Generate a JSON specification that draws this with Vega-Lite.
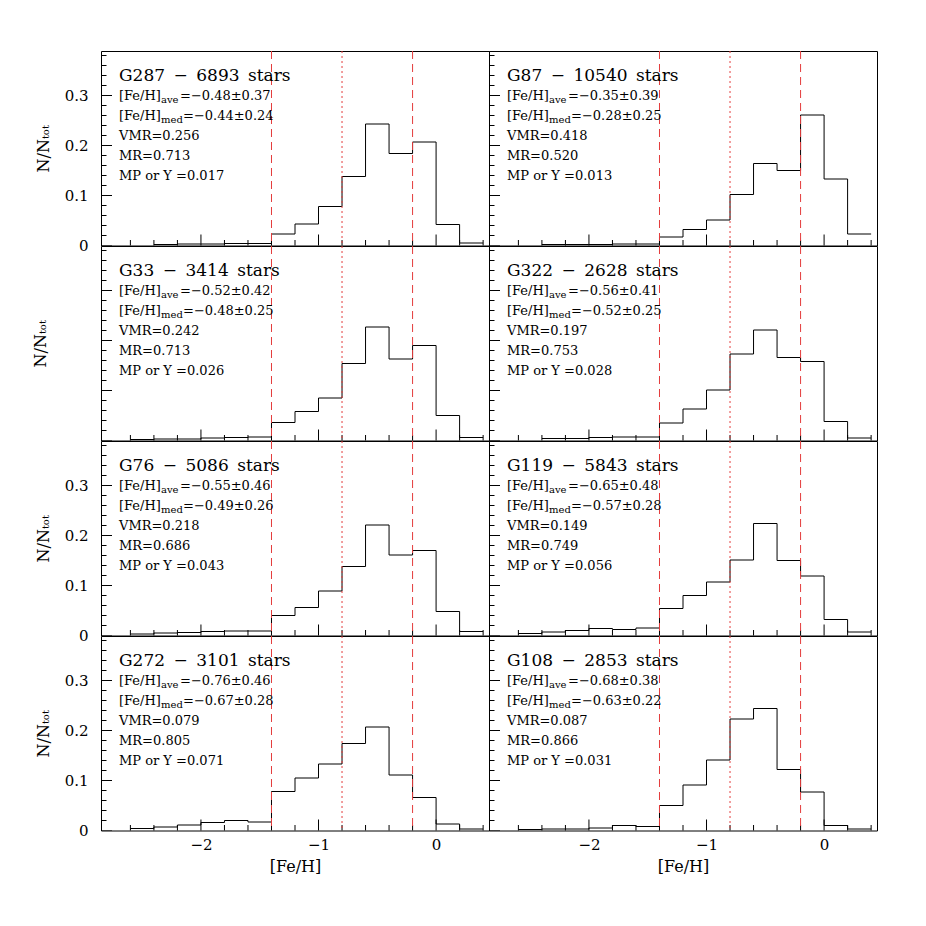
{
"$schema": "https://vega.github.io/schema/vega-lite/v6.json",
"padding": {"left": 32, "top": 48, "right": 5, "bottom": 5},
"background": "white",
"config": {
  "view": {"stroke": "black", "strokeWidth": 1},
  "axis": {"domain": false, "grid": false, "labelOverlap": false, "tickColor": "black", "tickWidth": 1, "labelFont": "DejaVu Serif", "labelFontSize": 15, "labelColor": "black", "titleFont": "DejaVu Serif", "titleFontSize": 16, "titleFontWeight": "normal", "titleColor": "black"},
  "text": {"font": "DejaVu Serif", "fontSize": 13, "align": "left", "baseline": "middle", "color": "black"}
},
"datasets": {
  "vl": [{"x": -1.4, "s": "dash"}, {"x": -0.8, "s": "dot"}, {"x": -0.2, "s": "dash"}],
  "yt": [{"v":0,"m":"major"},{"v":0.02,"m":"minor"},{"v":0.04,"m":"minor"},{"v":0.06,"m":"minor"},{"v":0.08,"m":"minor"},{"v":0.1,"m":"major"},{"v":0.12,"m":"minor"},{"v":0.14,"m":"minor"},{"v":0.16,"m":"minor"},{"v":0.18,"m":"minor"},{"v":0.2,"m":"major"},{"v":0.22,"m":"minor"},{"v":0.24,"m":"minor"},{"v":0.26,"m":"minor"},{"v":0.28,"m":"minor"},{"v":0.3,"m":"major"},{"v":0.32,"m":"minor"},{"v":0.34,"m":"minor"},{"v":0.36,"m":"minor"},{"v":0.38,"m":"minor"}],
  "xt": [{"v":-2.6,"m":"minor"},{"v":-2.4,"m":"minor"},{"v":-2.2,"m":"minor"},{"v":-2,"m":"major"},{"v":-1.8,"m":"minor"},{"v":-1.6,"m":"minor"},{"v":-1.4,"m":"minor"},{"v":-1.2,"m":"minor"},{"v":-1,"m":"major"},{"v":-0.8,"m":"minor"},{"v":-0.6,"m":"minor"},{"v":-0.4,"m":"minor"},{"v":-0.2,"m":"minor"},{"v":0,"m":"major"},{"v":0.2,"m":"minor"},{"v":0.4,"m":"minor"}],
  "h": [
    {"g":"G287","x":-2.4,"n":0.002},{"g":"G287","x":-2.2,"n":0.003},{"g":"G287","x":-2.0,"n":0.003},{"g":"G287","x":-1.8,"n":0.004},{"g":"G287","x":-1.6,"n":0.004},{"g":"G287","x":-1.4,"n":0.023},{"g":"G287","x":-1.2,"n":0.043},{"g":"G287","x":-1.0,"n":0.078},{"g":"G287","x":-0.8,"n":0.138},{"g":"G287","x":-0.6,"n":0.243},{"g":"G287","x":-0.4,"n":0.184},{"g":"G287","x":-0.2,"n":0.207},{"g":"G287","x":0.0,"n":0.042},{"g":"G287","x":0.2,"n":0.005},{"g":"G287","x":0.4,"n":0.005},
    {"g":"G87","x":-2.4,"n":0.002},{"g":"G87","x":-2.2,"n":0.002},{"g":"G87","x":-2.0,"n":0.002},{"g":"G87","x":-1.8,"n":0.003},{"g":"G87","x":-1.6,"n":0.003},{"g":"G87","x":-1.4,"n":0.017},{"g":"G87","x":-1.2,"n":0.032},{"g":"G87","x":-1.0,"n":0.051},{"g":"G87","x":-0.8,"n":0.102},{"g":"G87","x":-0.6,"n":0.164},{"g":"G87","x":-0.4,"n":0.150},{"g":"G87","x":-0.2,"n":0.261},{"g":"G87","x":0.0,"n":0.133},{"g":"G87","x":0.2,"n":0.023},{"g":"G87","x":0.4,"n":0.023},
    {"g":"G33","x":-2.6,"n":0.002},{"g":"G33","x":-2.4,"n":0.003},{"g":"G33","x":-2.2,"n":0.003},{"g":"G33","x":-2.0,"n":0.005},{"g":"G33","x":-1.8,"n":0.006},{"g":"G33","x":-1.6,"n":0.007},{"g":"G33","x":-1.4,"n":0.036},{"g":"G33","x":-1.2,"n":0.058},{"g":"G33","x":-1.0,"n":0.085},{"g":"G33","x":-0.8,"n":0.154},{"g":"G33","x":-0.6,"n":0.227},{"g":"G33","x":-0.4,"n":0.163},{"g":"G33","x":-0.2,"n":0.190},{"g":"G33","x":0.0,"n":0.050},{"g":"G33","x":0.2,"n":0.006},{"g":"G33","x":0.4,"n":0.006},
    {"g":"G322","x":-2.4,"n":0.004},{"g":"G322","x":-2.2,"n":0.004},{"g":"G322","x":-2.0,"n":0.006},{"g":"G322","x":-1.8,"n":0.007},{"g":"G322","x":-1.6,"n":0.007},{"g":"G322","x":-1.4,"n":0.035},{"g":"G322","x":-1.2,"n":0.063},{"g":"G322","x":-1.0,"n":0.101},{"g":"G322","x":-0.8,"n":0.173},{"g":"G322","x":-0.6,"n":0.221},{"g":"G322","x":-0.4,"n":0.166},{"g":"G322","x":-0.2,"n":0.158},{"g":"G322","x":0.0,"n":0.038},{"g":"G322","x":0.2,"n":0.005},{"g":"G322","x":0.4,"n":0.005},
    {"g":"G76","x":-2.6,"n":0.003},{"g":"G76","x":-2.4,"n":0.005},{"g":"G76","x":-2.2,"n":0.006},{"g":"G76","x":-2.0,"n":0.008},{"g":"G76","x":-1.8,"n":0.009},{"g":"G76","x":-1.6,"n":0.009},{"g":"G76","x":-1.4,"n":0.040},{"g":"G76","x":-1.2,"n":0.056},{"g":"G76","x":-1.0,"n":0.089},{"g":"G76","x":-0.8,"n":0.138},{"g":"G76","x":-0.6,"n":0.221},{"g":"G76","x":-0.4,"n":0.161},{"g":"G76","x":-0.2,"n":0.170},{"g":"G76","x":0.0,"n":0.048},{"g":"G76","x":0.2,"n":0.008},{"g":"G76","x":0.4,"n":0.008},
    {"g":"G119","x":-2.6,"n":0.004},{"g":"G119","x":-2.4,"n":0.007},{"g":"G119","x":-2.2,"n":0.010},{"g":"G119","x":-2.0,"n":0.014},{"g":"G119","x":-1.8,"n":0.012},{"g":"G119","x":-1.6,"n":0.015},{"g":"G119","x":-1.4,"n":0.054},{"g":"G119","x":-1.2,"n":0.080},{"g":"G119","x":-1.0,"n":0.107},{"g":"G119","x":-0.8,"n":0.151},{"g":"G119","x":-0.6,"n":0.224},{"g":"G119","x":-0.4,"n":0.150},{"g":"G119","x":-0.2,"n":0.119},{"g":"G119","x":0.0,"n":0.032},{"g":"G119","x":0.2,"n":0.007},{"g":"G119","x":0.4,"n":0.007},
    {"g":"G272","x":-2.6,"n":0.004},{"g":"G272","x":-2.4,"n":0.007},{"g":"G272","x":-2.2,"n":0.011},{"g":"G272","x":-2.0,"n":0.016},{"g":"G272","x":-1.8,"n":0.020},{"g":"G272","x":-1.6,"n":0.017},{"g":"G272","x":-1.4,"n":0.078},{"g":"G272","x":-1.2,"n":0.105},{"g":"G272","x":-1.0,"n":0.133},{"g":"G272","x":-0.8,"n":0.174},{"g":"G272","x":-0.6,"n":0.207},{"g":"G272","x":-0.4,"n":0.111},{"g":"G272","x":-0.2,"n":0.066},{"g":"G272","x":0.0,"n":0.013},{"g":"G272","x":0.2,"n":0.003},{"g":"G272","x":0.4,"n":0.003},
    {"g":"G108","x":-2.6,"n":0.002},{"g":"G108","x":-2.4,"n":0.003},{"g":"G108","x":-2.2,"n":0.003},{"g":"G108","x":-2.0,"n":0.005},{"g":"G108","x":-1.8,"n":0.010},{"g":"G108","x":-1.6,"n":0.008},{"g":"G108","x":-1.4,"n":0.050},{"g":"G108","x":-1.2,"n":0.091},{"g":"G108","x":-1.0,"n":0.141},{"g":"G108","x":-0.8,"n":0.223},{"g":"G108","x":-0.6,"n":0.244},{"g":"G108","x":-0.4,"n":0.122},{"g":"G108","x":-0.2,"n":0.077},{"g":"G108","x":0.0,"n":0.010},{"g":"G108","x":0.2,"n":0.003},{"g":"G108","x":0.4,"n":0.003}
  ],
  "t": [
    {"g":"G287","line":0,"t":"G287\u2002\u2212\u20026893\u2002stars"},{"g":"G287","line":1,"t":"[Fe/H]","s":"ave","v":"=\u22120.48±0.37"},{"g":"G287","line":2,"t":"[Fe/H]","s":"med","v":"=\u22120.44±0.24"},{"g":"G287","line":3,"t":"VMR=0.256"},{"g":"G287","line":4,"t":"MR=0.713"},{"g":"G287","line":5,"t":"MP or Y =0.017"},
    {"g":"G87","line":0,"t":"G87\u2002\u2212\u200210540\u2002stars"},{"g":"G87","line":1,"t":"[Fe/H]","s":"ave","v":"=\u22120.35±0.39"},{"g":"G87","line":2,"t":"[Fe/H]","s":"med","v":"=\u22120.28±0.25"},{"g":"G87","line":3,"t":"VMR=0.418"},{"g":"G87","line":4,"t":"MR=0.520"},{"g":"G87","line":5,"t":"MP or Y =0.013"},
    {"g":"G33","line":0,"t":"G33\u2002\u2212\u20023414\u2002stars"},{"g":"G33","line":1,"t":"[Fe/H]","s":"ave","v":"=\u22120.52±0.42"},{"g":"G33","line":2,"t":"[Fe/H]","s":"med","v":"=\u22120.48±0.25"},{"g":"G33","line":3,"t":"VMR=0.242"},{"g":"G33","line":4,"t":"MR=0.713"},{"g":"G33","line":5,"t":"MP or Y =0.026"},
    {"g":"G322","line":0,"t":"G322\u2002\u2212\u20022628\u2002stars"},{"g":"G322","line":1,"t":"[Fe/H]","s":"ave","v":"=\u22120.56±0.41"},{"g":"G322","line":2,"t":"[Fe/H]","s":"med","v":"=\u22120.52±0.25"},{"g":"G322","line":3,"t":"VMR=0.197"},{"g":"G322","line":4,"t":"MR=0.753"},{"g":"G322","line":5,"t":"MP or Y =0.028"},
    {"g":"G76","line":0,"t":"G76\u2002\u2212\u20025086\u2002stars"},{"g":"G76","line":1,"t":"[Fe/H]","s":"ave","v":"=\u22120.55±0.46"},{"g":"G76","line":2,"t":"[Fe/H]","s":"med","v":"=\u22120.49±0.26"},{"g":"G76","line":3,"t":"VMR=0.218"},{"g":"G76","line":4,"t":"MR=0.686"},{"g":"G76","line":5,"t":"MP or Y =0.043"},
    {"g":"G119","line":0,"t":"G119\u2002\u2212\u20025843\u2002stars"},{"g":"G119","line":1,"t":"[Fe/H]","s":"ave","v":"=\u22120.65±0.48"},{"g":"G119","line":2,"t":"[Fe/H]","s":"med","v":"=\u22120.57±0.28"},{"g":"G119","line":3,"t":"VMR=0.149"},{"g":"G119","line":4,"t":"MR=0.749"},{"g":"G119","line":5,"t":"MP or Y =0.056"},
    {"g":"G272","line":0,"t":"G272\u2002\u2212\u20023101\u2002stars"},{"g":"G272","line":1,"t":"[Fe/H]","s":"ave","v":"=\u22120.76±0.46"},{"g":"G272","line":2,"t":"[Fe/H]","s":"med","v":"=\u22120.67±0.28"},{"g":"G272","line":3,"t":"VMR=0.079"},{"g":"G272","line":4,"t":"MR=0.805"},{"g":"G272","line":5,"t":"MP or Y =0.071"},
    {"g":"G108","line":0,"t":"G108\u2002\u2212\u20022853\u2002stars"},{"g":"G108","line":1,"t":"[Fe/H]","s":"ave","v":"=\u22120.68±0.38"},{"g":"G108","line":2,"t":"[Fe/H]","s":"med","v":"=\u22120.63±0.22"},{"g":"G108","line":3,"t":"VMR=0.087"},{"g":"G108","line":4,"t":"MR=0.866"},{"g":"G108","line":5,"t":"MP or Y =0.031"}
  ]
},
"columns": 2,
"spacing": 0,
"bounds": "flush",
"concat": [
  {"width":388,"height":194.5,"resolve":{"scale":{"y":"independent"}},"layer":[
   {"data":{"name":"h"},"transform":[{"filter":"datum.g=='G287'"}],"mark":{"type":"line","interpolate":"step-after","color":"black","strokeWidth":1},"encoding":{
     "x":{"field":"x","type":"quantitative","scale":{"domain":[-2.85,0.45],"nice":false,"zero":false},"axis":{"values":[-2.6,-2.4,-2.2,-2,-1.8,-1.6,-1.4,-1.2,-1,-0.8,-0.6,-0.4,-0.2,0,0.2,0.4],"tickCount":100,"tickSize":0,"labels":false,"title":null}},
     "y":{"field":"n","type":"quantitative","scale":{"domain":[0,0.389],"nice":false},"axis":{"values":[0,0.02,0.04,0.06,0.08,0.1,0.12,0.14,0.16,0.18,0.2,0.22,0.24,0.26,0.28,0.3,0.32,0.34,0.36,0.38],"tickCount":100,"tickSize":0,"format":"~g","labelOverlap":false,"labelExpr":"abs(datum.value*10-round(datum.value*10))<1e-6 ? datum.label : ''","labelPadding":13,"title":"N/N\u209c\u2092\u209c","titlePadding":13}}}},
   {"data":{"name":"yt"},"mark":{"type":"tick","orient":"horizontal","color":"black","opacity":1,"thickness":1,"clip":true},"encoding":{"x":{"datum":-2.85,"type":"quantitative","scale":{"domain":[-2.85,0.45],"nice":false,"zero":false}},"y":{"field":"v","type":"quantitative","scale":{"domain":[0,0.389],"nice":false},"axis":null},"size":{"field":"m","type":"ordinal","scale":{"domain":["major","minor"],"range":[22,11]},"legend":null}}},
   {"data":{"name":"xt"},"mark":{"type":"tick","orient":"vertical","color":"black","opacity":1,"thickness":1,"clip":true},"encoding":{"x":{"field":"v","type":"quantitative","scale":{"domain":[-2.85,0.45],"nice":false,"zero":false}},"y":{"datum":0,"type":"quantitative","scale":{"domain":[0,0.389],"nice":false},"axis":null},"size":{"field":"m","type":"ordinal","scale":{"domain":["major","minor"],"range":[22,11]},"legend":null}}},
   {"data":{"name":"vl"},"mark":{"type":"rule","color":"#e43c3c","strokeWidth":1},"encoding":{"x":{"field":"x","type":"quantitative","scale":{"domain":[-2.85,0.45],"nice":false,"zero":false}},"strokeDash":{"field":"s","type":"nominal","scale":{"domain":["dash","dot"],"range":[[8,5],[2,3]]},"legend":null}}},
   {"data":{"name":"t"},"transform":[{"filter":"datum.g=='G287'"}],"encoding":{"x":{"datum":-2.697,"type":"quantitative","scale":{"domain":[-2.85,0.45],"nice":false,"zero":false}},"y":{"field":"line","type":"quantitative","scale":{"domain":[-1.25,8.475],"reverse":true,"nice":false,"zero":false},"axis":null}},"layer":[
     {"transform":[{"filter":"datum.line==0"}],"mark":{"type":"text","fontSize":17},"encoding":{"text":{"field":"t","type":"nominal"}}},
     {"transform":[{"filter":"datum.line>0"}],"mark":{"type":"text"},"encoding":{"text":{"field":"t","type":"nominal"}}},
     {"transform":[{"filter":"datum.line==1||datum.line==2"}],"mark":{"type":"text","fontSize":10,"dx":42,"dy":4},"encoding":{"text":{"field":"s","type":"nominal"}}},
     {"transform":[{"filter":"datum.line==1"}],"mark":{"type":"text","dx":61},"encoding":{"text":{"field":"v","type":"nominal"}}},
     {"transform":[{"filter":"datum.line==2"}],"mark":{"type":"text","dx":64},"encoding":{"text":{"field":"v","type":"nominal"}}}
   ]}
  ]},
  {"width":388,"height":194.5,"resolve":{"scale":{"y":"independent"}},"layer":[
   {"data":{"name":"h"},"transform":[{"filter":"datum.g=='G87'"}],"mark":{"type":"line","interpolate":"step-after","color":"black","strokeWidth":1},"encoding":{
     "x":{"field":"x","type":"quantitative","scale":{"domain":[-2.85,0.45],"nice":false,"zero":false},"axis":{"values":[-2.6,-2.4,-2.2,-2,-1.8,-1.6,-1.4,-1.2,-1,-0.8,-0.6,-0.4,-0.2,0,0.2,0.4],"tickCount":100,"tickSize":0,"labels":false,"title":null}},
     "y":{"field":"n","type":"quantitative","scale":{"domain":[0,0.389],"nice":false},"axis":null}}},
   {"data":{"name":"yt"},"mark":{"type":"tick","orient":"horizontal","color":"black","opacity":1,"thickness":1,"clip":true},"encoding":{"x":{"datum":-2.85,"type":"quantitative","scale":{"domain":[-2.85,0.45],"nice":false,"zero":false}},"y":{"field":"v","type":"quantitative","scale":{"domain":[0,0.389],"nice":false},"axis":null},"size":{"field":"m","type":"ordinal","scale":{"domain":["major","minor"],"range":[22,11]},"legend":null}}},
   {"data":{"name":"xt"},"mark":{"type":"tick","orient":"vertical","color":"black","opacity":1,"thickness":1,"clip":true},"encoding":{"x":{"field":"v","type":"quantitative","scale":{"domain":[-2.85,0.45],"nice":false,"zero":false}},"y":{"datum":0,"type":"quantitative","scale":{"domain":[0,0.389],"nice":false},"axis":null},"size":{"field":"m","type":"ordinal","scale":{"domain":["major","minor"],"range":[22,11]},"legend":null}}},
   {"data":{"name":"vl"},"mark":{"type":"rule","color":"#e43c3c","strokeWidth":1},"encoding":{"x":{"field":"x","type":"quantitative","scale":{"domain":[-2.85,0.45],"nice":false,"zero":false}},"strokeDash":{"field":"s","type":"nominal","scale":{"domain":["dash","dot"],"range":[[8,5],[2,3]]},"legend":null}}},
   {"data":{"name":"t"},"transform":[{"filter":"datum.g=='G87'"}],"encoding":{"x":{"datum":-2.697,"type":"quantitative","scale":{"domain":[-2.85,0.45],"nice":false,"zero":false}},"y":{"field":"line","type":"quantitative","scale":{"domain":[-1.25,8.475],"reverse":true,"nice":false,"zero":false},"axis":null}},"layer":[
     {"transform":[{"filter":"datum.line==0"}],"mark":{"type":"text","fontSize":17},"encoding":{"text":{"field":"t","type":"nominal"}}},
     {"transform":[{"filter":"datum.line>0"}],"mark":{"type":"text"},"encoding":{"text":{"field":"t","type":"nominal"}}},
     {"transform":[{"filter":"datum.line==1||datum.line==2"}],"mark":{"type":"text","fontSize":10,"dx":42,"dy":4},"encoding":{"text":{"field":"s","type":"nominal"}}},
     {"transform":[{"filter":"datum.line==1"}],"mark":{"type":"text","dx":61},"encoding":{"text":{"field":"v","type":"nominal"}}},
     {"transform":[{"filter":"datum.line==2"}],"mark":{"type":"text","dx":64},"encoding":{"text":{"field":"v","type":"nominal"}}}
   ]}
  ]},
  {"width":388,"height":194.5,"resolve":{"scale":{"y":"independent"}},"layer":[
   {"data":{"name":"h"},"transform":[{"filter":"datum.g=='G33'"}],"mark":{"type":"line","interpolate":"step-after","color":"black","strokeWidth":1},"encoding":{
     "x":{"field":"x","type":"quantitative","scale":{"domain":[-2.85,0.45],"nice":false,"zero":false},"axis":{"values":[-2.6,-2.4,-2.2,-2,-1.8,-1.6,-1.4,-1.2,-1,-0.8,-0.6,-0.4,-0.2,0,0.2,0.4],"tickCount":100,"tickSize":0,"labels":false,"title":null}},
     "y":{"field":"n","type":"quantitative","scale":{"domain":[0,0.389],"nice":false},"axis":{"values":[0,0.1,0.2,0.3],"tickCount":100,"tickSize":0,"labels":false,"title":"N/N\u209c\u2092\u209c","titlePadding":52}}}},
   {"data":{"name":"yt"},"mark":{"type":"tick","orient":"horizontal","color":"black","opacity":1,"thickness":1,"clip":true},"encoding":{"x":{"datum":-2.85,"type":"quantitative","scale":{"domain":[-2.85,0.45],"nice":false,"zero":false}},"y":{"field":"v","type":"quantitative","scale":{"domain":[0,0.389],"nice":false},"axis":null},"size":{"field":"m","type":"ordinal","scale":{"domain":["major","minor"],"range":[22,11]},"legend":null}}},
   {"data":{"name":"xt"},"mark":{"type":"tick","orient":"vertical","color":"black","opacity":1,"thickness":1,"clip":true},"encoding":{"x":{"field":"v","type":"quantitative","scale":{"domain":[-2.85,0.45],"nice":false,"zero":false}},"y":{"datum":0,"type":"quantitative","scale":{"domain":[0,0.389],"nice":false},"axis":null},"size":{"field":"m","type":"ordinal","scale":{"domain":["major","minor"],"range":[22,11]},"legend":null}}},
   {"data":{"name":"vl"},"mark":{"type":"rule","color":"#e43c3c","strokeWidth":1},"encoding":{"x":{"field":"x","type":"quantitative","scale":{"domain":[-2.85,0.45],"nice":false,"zero":false}},"strokeDash":{"field":"s","type":"nominal","scale":{"domain":["dash","dot"],"range":[[8,5],[2,3]]},"legend":null}}},
   {"data":{"name":"t"},"transform":[{"filter":"datum.g=='G33'"}],"encoding":{"x":{"datum":-2.697,"type":"quantitative","scale":{"domain":[-2.85,0.45],"nice":false,"zero":false}},"y":{"field":"line","type":"quantitative","scale":{"domain":[-1.25,8.475],"reverse":true,"nice":false,"zero":false},"axis":null}},"layer":[
     {"transform":[{"filter":"datum.line==0"}],"mark":{"type":"text","fontSize":17},"encoding":{"text":{"field":"t","type":"nominal"}}},
     {"transform":[{"filter":"datum.line>0"}],"mark":{"type":"text"},"encoding":{"text":{"field":"t","type":"nominal"}}},
     {"transform":[{"filter":"datum.line==1||datum.line==2"}],"mark":{"type":"text","fontSize":10,"dx":42,"dy":4},"encoding":{"text":{"field":"s","type":"nominal"}}},
     {"transform":[{"filter":"datum.line==1"}],"mark":{"type":"text","dx":61},"encoding":{"text":{"field":"v","type":"nominal"}}},
     {"transform":[{"filter":"datum.line==2"}],"mark":{"type":"text","dx":64},"encoding":{"text":{"field":"v","type":"nominal"}}}
   ]}
  ]},
  {"width":388,"height":194.5,"resolve":{"scale":{"y":"independent"}},"layer":[
   {"data":{"name":"h"},"transform":[{"filter":"datum.g=='G322'"}],"mark":{"type":"line","interpolate":"step-after","color":"black","strokeWidth":1},"encoding":{
     "x":{"field":"x","type":"quantitative","scale":{"domain":[-2.85,0.45],"nice":false,"zero":false},"axis":{"values":[-2.6,-2.4,-2.2,-2,-1.8,-1.6,-1.4,-1.2,-1,-0.8,-0.6,-0.4,-0.2,0,0.2,0.4],"tickCount":100,"tickSize":0,"labels":false,"title":null}},
     "y":{"field":"n","type":"quantitative","scale":{"domain":[0,0.389],"nice":false},"axis":null}}},
   {"data":{"name":"yt"},"mark":{"type":"tick","orient":"horizontal","color":"black","opacity":1,"thickness":1,"clip":true},"encoding":{"x":{"datum":-2.85,"type":"quantitative","scale":{"domain":[-2.85,0.45],"nice":false,"zero":false}},"y":{"field":"v","type":"quantitative","scale":{"domain":[0,0.389],"nice":false},"axis":null},"size":{"field":"m","type":"ordinal","scale":{"domain":["major","minor"],"range":[22,11]},"legend":null}}},
   {"data":{"name":"xt"},"mark":{"type":"tick","orient":"vertical","color":"black","opacity":1,"thickness":1,"clip":true},"encoding":{"x":{"field":"v","type":"quantitative","scale":{"domain":[-2.85,0.45],"nice":false,"zero":false}},"y":{"datum":0,"type":"quantitative","scale":{"domain":[0,0.389],"nice":false},"axis":null},"size":{"field":"m","type":"ordinal","scale":{"domain":["major","minor"],"range":[22,11]},"legend":null}}},
   {"data":{"name":"vl"},"mark":{"type":"rule","color":"#e43c3c","strokeWidth":1},"encoding":{"x":{"field":"x","type":"quantitative","scale":{"domain":[-2.85,0.45],"nice":false,"zero":false}},"strokeDash":{"field":"s","type":"nominal","scale":{"domain":["dash","dot"],"range":[[8,5],[2,3]]},"legend":null}}},
   {"data":{"name":"t"},"transform":[{"filter":"datum.g=='G322'"}],"encoding":{"x":{"datum":-2.697,"type":"quantitative","scale":{"domain":[-2.85,0.45],"nice":false,"zero":false}},"y":{"field":"line","type":"quantitative","scale":{"domain":[-1.25,8.475],"reverse":true,"nice":false,"zero":false},"axis":null}},"layer":[
     {"transform":[{"filter":"datum.line==0"}],"mark":{"type":"text","fontSize":17},"encoding":{"text":{"field":"t","type":"nominal"}}},
     {"transform":[{"filter":"datum.line>0"}],"mark":{"type":"text"},"encoding":{"text":{"field":"t","type":"nominal"}}},
     {"transform":[{"filter":"datum.line==1||datum.line==2"}],"mark":{"type":"text","fontSize":10,"dx":42,"dy":4},"encoding":{"text":{"field":"s","type":"nominal"}}},
     {"transform":[{"filter":"datum.line==1"}],"mark":{"type":"text","dx":61},"encoding":{"text":{"field":"v","type":"nominal"}}},
     {"transform":[{"filter":"datum.line==2"}],"mark":{"type":"text","dx":64},"encoding":{"text":{"field":"v","type":"nominal"}}}
   ]}
  ]},
  {"width":388,"height":194.5,"resolve":{"scale":{"y":"independent"}},"layer":[
   {"data":{"name":"h"},"transform":[{"filter":"datum.g=='G76'"}],"mark":{"type":"line","interpolate":"step-after","color":"black","strokeWidth":1},"encoding":{
     "x":{"field":"x","type":"quantitative","scale":{"domain":[-2.85,0.45],"nice":false,"zero":false},"axis":{"values":[-2.6,-2.4,-2.2,-2,-1.8,-1.6,-1.4,-1.2,-1,-0.8,-0.6,-0.4,-0.2,0,0.2,0.4],"tickCount":100,"tickSize":0,"labels":false,"title":null}},
     "y":{"field":"n","type":"quantitative","scale":{"domain":[0,0.389],"nice":false},"axis":{"values":[0,0.02,0.04,0.06,0.08,0.1,0.12,0.14,0.16,0.18,0.2,0.22,0.24,0.26,0.28,0.3,0.32,0.34,0.36,0.38],"tickCount":100,"tickSize":0,"format":"~g","labelOverlap":false,"labelExpr":"abs(datum.value*10-round(datum.value*10))<1e-6 ? datum.label : ''","labelPadding":13,"title":"N/N\u209c\u2092\u209c","titlePadding":13}}}},
   {"data":{"name":"yt"},"mark":{"type":"tick","orient":"horizontal","color":"black","opacity":1,"thickness":1,"clip":true},"encoding":{"x":{"datum":-2.85,"type":"quantitative","scale":{"domain":[-2.85,0.45],"nice":false,"zero":false}},"y":{"field":"v","type":"quantitative","scale":{"domain":[0,0.389],"nice":false},"axis":null},"size":{"field":"m","type":"ordinal","scale":{"domain":["major","minor"],"range":[22,11]},"legend":null}}},
   {"data":{"name":"xt"},"mark":{"type":"tick","orient":"vertical","color":"black","opacity":1,"thickness":1,"clip":true},"encoding":{"x":{"field":"v","type":"quantitative","scale":{"domain":[-2.85,0.45],"nice":false,"zero":false}},"y":{"datum":0,"type":"quantitative","scale":{"domain":[0,0.389],"nice":false},"axis":null},"size":{"field":"m","type":"ordinal","scale":{"domain":["major","minor"],"range":[22,11]},"legend":null}}},
   {"data":{"name":"vl"},"mark":{"type":"rule","color":"#e43c3c","strokeWidth":1},"encoding":{"x":{"field":"x","type":"quantitative","scale":{"domain":[-2.85,0.45],"nice":false,"zero":false}},"strokeDash":{"field":"s","type":"nominal","scale":{"domain":["dash","dot"],"range":[[8,5],[2,3]]},"legend":null}}},
   {"data":{"name":"t"},"transform":[{"filter":"datum.g=='G76'"}],"encoding":{"x":{"datum":-2.697,"type":"quantitative","scale":{"domain":[-2.85,0.45],"nice":false,"zero":false}},"y":{"field":"line","type":"quantitative","scale":{"domain":[-1.25,8.475],"reverse":true,"nice":false,"zero":false},"axis":null}},"layer":[
     {"transform":[{"filter":"datum.line==0"}],"mark":{"type":"text","fontSize":17},"encoding":{"text":{"field":"t","type":"nominal"}}},
     {"transform":[{"filter":"datum.line>0"}],"mark":{"type":"text"},"encoding":{"text":{"field":"t","type":"nominal"}}},
     {"transform":[{"filter":"datum.line==1||datum.line==2"}],"mark":{"type":"text","fontSize":10,"dx":42,"dy":4},"encoding":{"text":{"field":"s","type":"nominal"}}},
     {"transform":[{"filter":"datum.line==1"}],"mark":{"type":"text","dx":61},"encoding":{"text":{"field":"v","type":"nominal"}}},
     {"transform":[{"filter":"datum.line==2"}],"mark":{"type":"text","dx":64},"encoding":{"text":{"field":"v","type":"nominal"}}}
   ]}
  ]},
  {"width":388,"height":194.5,"resolve":{"scale":{"y":"independent"}},"layer":[
   {"data":{"name":"h"},"transform":[{"filter":"datum.g=='G119'"}],"mark":{"type":"line","interpolate":"step-after","color":"black","strokeWidth":1},"encoding":{
     "x":{"field":"x","type":"quantitative","scale":{"domain":[-2.85,0.45],"nice":false,"zero":false},"axis":{"values":[-2.6,-2.4,-2.2,-2,-1.8,-1.6,-1.4,-1.2,-1,-0.8,-0.6,-0.4,-0.2,0,0.2,0.4],"tickCount":100,"tickSize":0,"labels":false,"title":null}},
     "y":{"field":"n","type":"quantitative","scale":{"domain":[0,0.389],"nice":false},"axis":null}}},
   {"data":{"name":"yt"},"mark":{"type":"tick","orient":"horizontal","color":"black","opacity":1,"thickness":1,"clip":true},"encoding":{"x":{"datum":-2.85,"type":"quantitative","scale":{"domain":[-2.85,0.45],"nice":false,"zero":false}},"y":{"field":"v","type":"quantitative","scale":{"domain":[0,0.389],"nice":false},"axis":null},"size":{"field":"m","type":"ordinal","scale":{"domain":["major","minor"],"range":[22,11]},"legend":null}}},
   {"data":{"name":"xt"},"mark":{"type":"tick","orient":"vertical","color":"black","opacity":1,"thickness":1,"clip":true},"encoding":{"x":{"field":"v","type":"quantitative","scale":{"domain":[-2.85,0.45],"nice":false,"zero":false}},"y":{"datum":0,"type":"quantitative","scale":{"domain":[0,0.389],"nice":false},"axis":null},"size":{"field":"m","type":"ordinal","scale":{"domain":["major","minor"],"range":[22,11]},"legend":null}}},
   {"data":{"name":"vl"},"mark":{"type":"rule","color":"#e43c3c","strokeWidth":1},"encoding":{"x":{"field":"x","type":"quantitative","scale":{"domain":[-2.85,0.45],"nice":false,"zero":false}},"strokeDash":{"field":"s","type":"nominal","scale":{"domain":["dash","dot"],"range":[[8,5],[2,3]]},"legend":null}}},
   {"data":{"name":"t"},"transform":[{"filter":"datum.g=='G119'"}],"encoding":{"x":{"datum":-2.697,"type":"quantitative","scale":{"domain":[-2.85,0.45],"nice":false,"zero":false}},"y":{"field":"line","type":"quantitative","scale":{"domain":[-1.25,8.475],"reverse":true,"nice":false,"zero":false},"axis":null}},"layer":[
     {"transform":[{"filter":"datum.line==0"}],"mark":{"type":"text","fontSize":17},"encoding":{"text":{"field":"t","type":"nominal"}}},
     {"transform":[{"filter":"datum.line>0"}],"mark":{"type":"text"},"encoding":{"text":{"field":"t","type":"nominal"}}},
     {"transform":[{"filter":"datum.line==1||datum.line==2"}],"mark":{"type":"text","fontSize":10,"dx":42,"dy":4},"encoding":{"text":{"field":"s","type":"nominal"}}},
     {"transform":[{"filter":"datum.line==1"}],"mark":{"type":"text","dx":61},"encoding":{"text":{"field":"v","type":"nominal"}}},
     {"transform":[{"filter":"datum.line==2"}],"mark":{"type":"text","dx":64},"encoding":{"text":{"field":"v","type":"nominal"}}}
   ]}
  ]},
  {"width":388,"height":194.5,"resolve":{"scale":{"y":"independent"}},"layer":[
   {"data":{"name":"h"},"transform":[{"filter":"datum.g=='G272'"}],"mark":{"type":"line","interpolate":"step-after","color":"black","strokeWidth":1},"encoding":{
     "x":{"field":"x","type":"quantitative","scale":{"domain":[-2.85,0.45],"nice":false,"zero":false},"axis":{"values":[-2.6,-2.4,-2.2,-2,-1.8,-1.6,-1.4,-1.2,-1,-0.8,-0.6,-0.4,-0.2,0,0.2,0.4],"tickCount":100,"tickSize":0,"format":"~g","labelOverlap":false,"labelExpr":"abs(datum.value-round(datum.value))<1e-6 ? datum.label : ''","labelPadding":7,"title":"[Fe/H]","titlePadding":6}},
     "y":{"field":"n","type":"quantitative","scale":{"domain":[0,0.389],"nice":false},"axis":{"values":[0,0.02,0.04,0.06,0.08,0.1,0.12,0.14,0.16,0.18,0.2,0.22,0.24,0.26,0.28,0.3,0.32,0.34,0.36,0.38],"tickCount":100,"tickSize":0,"format":"~g","labelOverlap":false,"labelExpr":"abs(datum.value*10-round(datum.value*10))<1e-6 ? datum.label : ''","labelPadding":13,"title":"N/N\u209c\u2092\u209c","titlePadding":13}}}},
   {"data":{"name":"yt"},"mark":{"type":"tick","orient":"horizontal","color":"black","opacity":1,"thickness":1,"clip":true},"encoding":{"x":{"datum":-2.85,"type":"quantitative","scale":{"domain":[-2.85,0.45],"nice":false,"zero":false}},"y":{"field":"v","type":"quantitative","scale":{"domain":[0,0.389],"nice":false},"axis":null},"size":{"field":"m","type":"ordinal","scale":{"domain":["major","minor"],"range":[22,11]},"legend":null}}},
   {"data":{"name":"xt"},"mark":{"type":"tick","orient":"vertical","color":"black","opacity":1,"thickness":1,"clip":true},"encoding":{"x":{"field":"v","type":"quantitative","scale":{"domain":[-2.85,0.45],"nice":false,"zero":false}},"y":{"datum":0,"type":"quantitative","scale":{"domain":[0,0.389],"nice":false},"axis":null},"size":{"field":"m","type":"ordinal","scale":{"domain":["major","minor"],"range":[22,11]},"legend":null}}},
   {"data":{"name":"vl"},"mark":{"type":"rule","color":"#e43c3c","strokeWidth":1},"encoding":{"x":{"field":"x","type":"quantitative","scale":{"domain":[-2.85,0.45],"nice":false,"zero":false}},"strokeDash":{"field":"s","type":"nominal","scale":{"domain":["dash","dot"],"range":[[8,5],[2,3]]},"legend":null}}},
   {"data":{"name":"t"},"transform":[{"filter":"datum.g=='G272'"}],"encoding":{"x":{"datum":-2.697,"type":"quantitative","scale":{"domain":[-2.85,0.45],"nice":false,"zero":false}},"y":{"field":"line","type":"quantitative","scale":{"domain":[-1.25,8.475],"reverse":true,"nice":false,"zero":false},"axis":null}},"layer":[
     {"transform":[{"filter":"datum.line==0"}],"mark":{"type":"text","fontSize":17},"encoding":{"text":{"field":"t","type":"nominal"}}},
     {"transform":[{"filter":"datum.line>0"}],"mark":{"type":"text"},"encoding":{"text":{"field":"t","type":"nominal"}}},
     {"transform":[{"filter":"datum.line==1||datum.line==2"}],"mark":{"type":"text","fontSize":10,"dx":42,"dy":4},"encoding":{"text":{"field":"s","type":"nominal"}}},
     {"transform":[{"filter":"datum.line==1"}],"mark":{"type":"text","dx":61},"encoding":{"text":{"field":"v","type":"nominal"}}},
     {"transform":[{"filter":"datum.line==2"}],"mark":{"type":"text","dx":64},"encoding":{"text":{"field":"v","type":"nominal"}}}
   ]}
  ]},
  {"width":388,"height":194.5,"resolve":{"scale":{"y":"independent"}},"layer":[
   {"data":{"name":"h"},"transform":[{"filter":"datum.g=='G108'"}],"mark":{"type":"line","interpolate":"step-after","color":"black","strokeWidth":1},"encoding":{
     "x":{"field":"x","type":"quantitative","scale":{"domain":[-2.85,0.45],"nice":false,"zero":false},"axis":{"values":[-2.6,-2.4,-2.2,-2,-1.8,-1.6,-1.4,-1.2,-1,-0.8,-0.6,-0.4,-0.2,0,0.2,0.4],"tickCount":100,"tickSize":0,"format":"~g","labelOverlap":false,"labelExpr":"abs(datum.value-round(datum.value))<1e-6 ? datum.label : ''","labelPadding":7,"title":"[Fe/H]","titlePadding":6}},
     "y":{"field":"n","type":"quantitative","scale":{"domain":[0,0.389],"nice":false},"axis":null}}},
   {"data":{"name":"yt"},"mark":{"type":"tick","orient":"horizontal","color":"black","opacity":1,"thickness":1,"clip":true},"encoding":{"x":{"datum":-2.85,"type":"quantitative","scale":{"domain":[-2.85,0.45],"nice":false,"zero":false}},"y":{"field":"v","type":"quantitative","scale":{"domain":[0,0.389],"nice":false},"axis":null},"size":{"field":"m","type":"ordinal","scale":{"domain":["major","minor"],"range":[22,11]},"legend":null}}},
   {"data":{"name":"xt"},"mark":{"type":"tick","orient":"vertical","color":"black","opacity":1,"thickness":1,"clip":true},"encoding":{"x":{"field":"v","type":"quantitative","scale":{"domain":[-2.85,0.45],"nice":false,"zero":false}},"y":{"datum":0,"type":"quantitative","scale":{"domain":[0,0.389],"nice":false},"axis":null},"size":{"field":"m","type":"ordinal","scale":{"domain":["major","minor"],"range":[22,11]},"legend":null}}},
   {"data":{"name":"vl"},"mark":{"type":"rule","color":"#e43c3c","strokeWidth":1},"encoding":{"x":{"field":"x","type":"quantitative","scale":{"domain":[-2.85,0.45],"nice":false,"zero":false}},"strokeDash":{"field":"s","type":"nominal","scale":{"domain":["dash","dot"],"range":[[8,5],[2,3]]},"legend":null}}},
   {"data":{"name":"t"},"transform":[{"filter":"datum.g=='G108'"}],"encoding":{"x":{"datum":-2.697,"type":"quantitative","scale":{"domain":[-2.85,0.45],"nice":false,"zero":false}},"y":{"field":"line","type":"quantitative","scale":{"domain":[-1.25,8.475],"reverse":true,"nice":false,"zero":false},"axis":null}},"layer":[
     {"transform":[{"filter":"datum.line==0"}],"mark":{"type":"text","fontSize":17},"encoding":{"text":{"field":"t","type":"nominal"}}},
     {"transform":[{"filter":"datum.line>0"}],"mark":{"type":"text"},"encoding":{"text":{"field":"t","type":"nominal"}}},
     {"transform":[{"filter":"datum.line==1||datum.line==2"}],"mark":{"type":"text","fontSize":10,"dx":42,"dy":4},"encoding":{"text":{"field":"s","type":"nominal"}}},
     {"transform":[{"filter":"datum.line==1"}],"mark":{"type":"text","dx":61},"encoding":{"text":{"field":"v","type":"nominal"}}},
     {"transform":[{"filter":"datum.line==2"}],"mark":{"type":"text","dx":64},"encoding":{"text":{"field":"v","type":"nominal"}}}
   ]}
  ]}
]
}
